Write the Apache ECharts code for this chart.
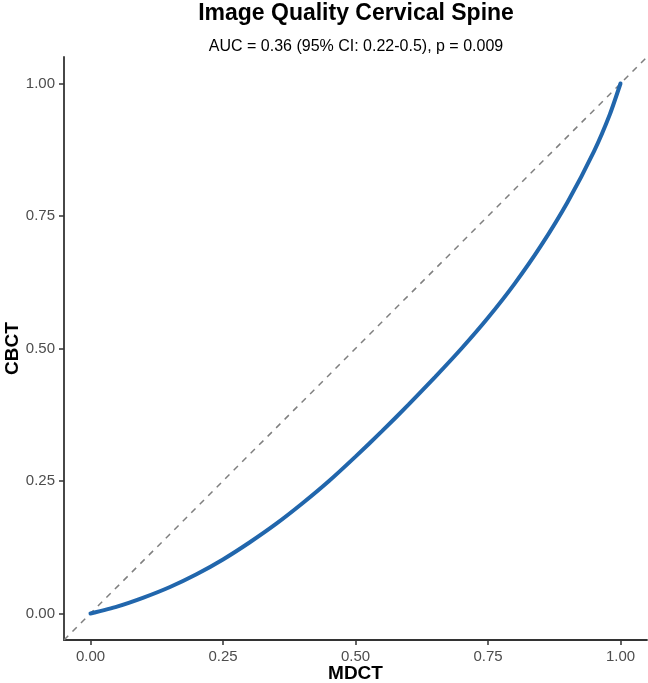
<!DOCTYPE html>
<html>
<head>
<meta charset="utf-8">
<title>Image Quality Cervical Spine</title>
<script src="https://cdn.jsdelivr.net/npm/echarts@6/dist/echarts.min.js"></script>
<style>
  * { box-sizing: border-box; margin: 0; padding: 0; }
  html, body { width: 648px; height: 683px; background: #fff; }
  #chart { width: 648px; height: 683px; }
</style>
</head>
<body>
<div id="chart"></div>
<script>
// ROC curve (MDCT = x, CBCT = y)
const mdct = [0, 0.05, 0.1, 0.15, 0.2, 0.25, 0.3, 0.35, 0.4, 0.45, 0.5,
  0.55, 0.6, 0.65, 0.7, 0.75, 0.8, 0.85, 0.9, 0.95, 0.98, 1.0];
const cbct = [0, 0.013, 0.03, 0.05, 0.074, 0.102, 0.134, 0.169, 0.208, 0.25, 0.296,
  0.344, 0.394, 0.446, 0.5, 0.558, 0.622, 0.694, 0.776, 0.872, 0.942, 1.0];
const diagonal = [-0.05, 1.05];
const ticks = [0, 0.25, 0.5, 0.75, 1.0];

const titleText = 'Image Quality Cervical Spine';
const subtitleText = 'AUC = 0.36 (95% CI: 0.22-0.5), p = 0.009';

const myChart = echarts.init(document.getElementById('chart'));
const font = 'Liberation Sans, Arial, sans-serif';

const axisCommon = {
  type: 'value',
  min: -0.05,
  max: 1.05,
  splitLine: { show: false },
  axisLine: { show: true, onZero: false, lineStyle: { color: '#333333', width: 1.8 } },
  axisTick: { show: true, length: 5, lineStyle: { color: '#333333', width: 1.5 }, customValues: ticks },
  axisLabel: {
    color: '#4d4d4d', fontSize: 15, fontFamily: font, margin: 9,
    customValues: ticks,
    formatter: v => v.toFixed(2)
  },
  nameLocation: 'middle',
  nameMoveOverlap: false,
  nameTextStyle: { color: '#000', fontSize: 19, fontWeight: 'bold', fontFamily: font }
};

const option = {
  animation: false,
  backgroundColor: '#fff',
  grid: { left: 64, right: 1, top: 57, bottom: 43, outerBoundsMode: 'none', containLabel: false },
  graphic: [
    {
      type: 'text', x: 356, y: 14,
      style: { text: titleText, font: 'bold 23px ' + font, fill: '#000',
        textAlign: 'center', textVerticalAlign: 'middle', align: 'center', verticalAlign: 'middle' }
    },
    {
      type: 'text', x: 356, y: 47,
      style: { text: subtitleText, font: '16px ' + font, fill: '#000',
        textAlign: 'center', textVerticalAlign: 'middle', align: 'center', verticalAlign: 'middle' }
    }
  ],
  xAxis: Object.assign({}, axisCommon, { name: 'MDCT', nameGap: 24 }),
  yAxis: Object.assign({}, axisCommon, { name: 'CBCT', nameGap: 42 }),
  series: [
    {
      type: 'line',
      data: diagonal.map(v => [v, v]),
      showSymbol: false,
      silent: true,
      lineStyle: { color: '#7f7f7f', width: 1.5, type: [6, 6] },
      z: 1
    },
    {
      type: 'line',
      data: mdct.map((x, i) => [x, cbct[i]]),
      smooth: 0.2,
      showSymbol: false,
      lineStyle: { color: '#2166ac', width: 4, cap: 'round' },
      z: 2
    }
  ]
};

myChart.setOption(option);
</script>
</body>
</html>
